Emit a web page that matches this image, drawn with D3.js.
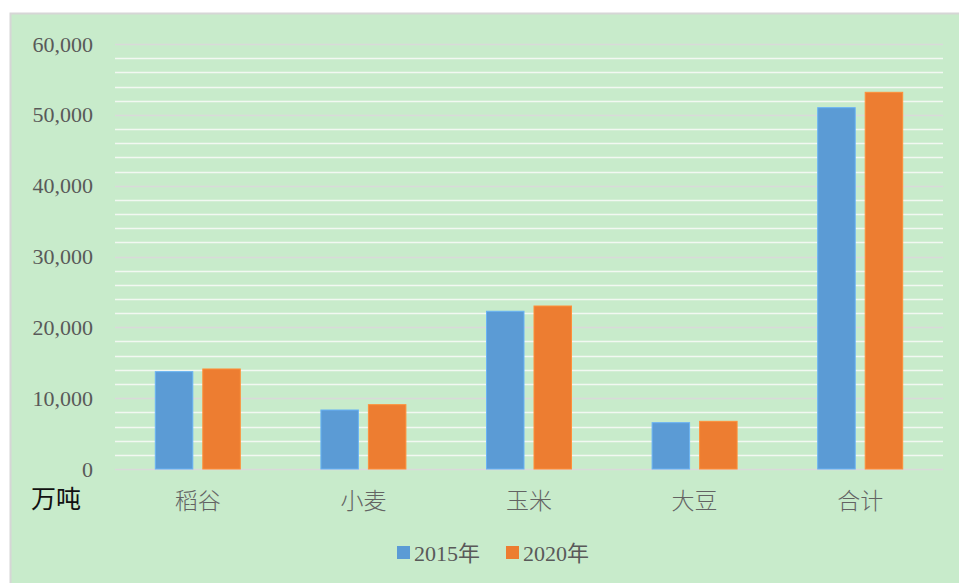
<!DOCTYPE html>
<html>
<head>
<meta charset="utf-8">
<script src="https://cdn.jsdelivr.net/npm/d3@7"></script>
<style>
  html, body { margin: 0; padding: 0; background: #ffffff; }
  svg { display: block; }
</style>
</head>
<body>
<svg id="chart" width="959" height="583"></svg>
<script>
// Grain output by crop, 万吨
const categories = ["稻谷", "小麦", "玉米", "大豆", "合计"];
const seriesNames = ["2015年", "2020年"];
const values2015 = [13740, 8330, 22270, 6540, 51010];
const values2020 = [14120, 9080, 23010, 6730, 53180];
const yTicks = [0, 10000, 20000, 30000, 40000, 50000, 60000];
const unitLabel = "万吨";
const colors = ["#5b9bd5", "#ed7d31"];

const svg = d3.select("#chart");
const W = 959, H = 583;

// background panel
svg.append("rect")
  .attr("x", 10.5).attr("y", 13.5)
  .attr("width", W + 10).attr("height", H)
  .attr("fill", "#c8ebcb")
  .attr("stroke", "#d6d6d6").attr("stroke-width", 2);

const plot = { left: 115, right: 943, top: 44, bottom: 469 };

const x = d3.scaleBand().domain(categories).range([plot.left, plot.right]).paddingInner(0).paddingOuter(0);
const y = d3.scaleLinear().domain([0, 60000]).range([plot.bottom, plot.top]);

// minor gridlines every 2,000
const minor = d3.range(2000, 60001, 2000).filter(v => v % 10000 !== 0);
svg.append("g").selectAll("line").data(minor).join("line")
  .attr("x1", plot.left).attr("x2", plot.right)
  .attr("y1", d => Math.round(y(d)) + 0.5).attr("y2", d => Math.round(y(d)) + 0.5)
  .attr("stroke", "#f2f8f2").attr("stroke-width", 1.5);

// major gridlines
svg.append("g").selectAll("line").data(yTicks).join("line")
  .attr("x1", plot.left).attr("x2", plot.right)
  .attr("y1", d => Math.round(y(d)) + 0.5).attr("y2", d => Math.round(y(d)) + 0.5)
  .attr("stroke", "#d9d9d9").attr("stroke-width", 1.5);

// y axis labels
const yAxis = d3.axisLeft(y).tickValues(yTicks).tickSize(0).tickPadding(0)
  .tickFormat(d3.format(","));
const gy = svg.append("g").attr("transform", `translate(${93},0)`).call(yAxis);
gy.select(".domain").remove();
gy.selectAll("text")
  .attr("fill", "#595959")
  .style("font-family", "'Liberation Serif', 'Times New Roman', serif")
  .style("font-size", "22px");

// bars
const barW = 37.5, gap = 10;
const groupW = barW * 2 + gap;
const series = [values2015, values2020];
series.forEach((vals, si) => {
  svg.append("g").selectAll("rect").data(categories).join("rect")
    .attr("x", d => x(d) + (x.bandwidth() - groupW) / 2 + si * (barW + gap))
    .attr("y", (d, i) => y(vals[i]))
    .attr("width", barW)
    .attr("height", (d, i) => y(0) - y(vals[i]))
    .attr("fill", colors[si])
    .attr("stroke", d3.color(colors[si]).brighter(0.4))
    .attr("stroke-width", 1);
});

// category axis
const xAxis = d3.axisBottom(x).tickSize(0).tickPadding(0);
const gx = svg.append("g").attr("transform", `translate(0,${plot.bottom + 40})`).call(xAxis);
gx.select(".domain").remove();
gx.selectAll("text")
  .attr("fill", "#636363")
  .attr("dy", 0)
  .style("font-family", "'Noto Sans CJK SC', sans-serif")
  .style("font-weight", "300")
  .style("font-size", "23px");

// unit label
svg.append("text")
  .attr("x", 31).attr("y", 508)
  .attr("fill", "#111")
  .style("font-family", "'Noto Sans CJK SC', sans-serif")
  .style("font-size", "25px")
  .text(unitLabel);

// legend
const legendX = [397, 506];
const lg = svg.append("g");
seriesNames.forEach((name, i) => {
  lg.append("rect")
    .attr("x", legendX[i]).attr("y", 546)
    .attr("width", 13).attr("height", 13)
    .attr("fill", colors[i]);
  lg.append("text")
    .attr("x", legendX[i] + 17).attr("y", 561)
    .attr("fill", "#595959")
    .style("font-family", "'Liberation Serif', 'Noto Sans CJK SC', serif")
    .style("font-size", "22px")
    .text(name);
});
</script>
</body>
</html>
